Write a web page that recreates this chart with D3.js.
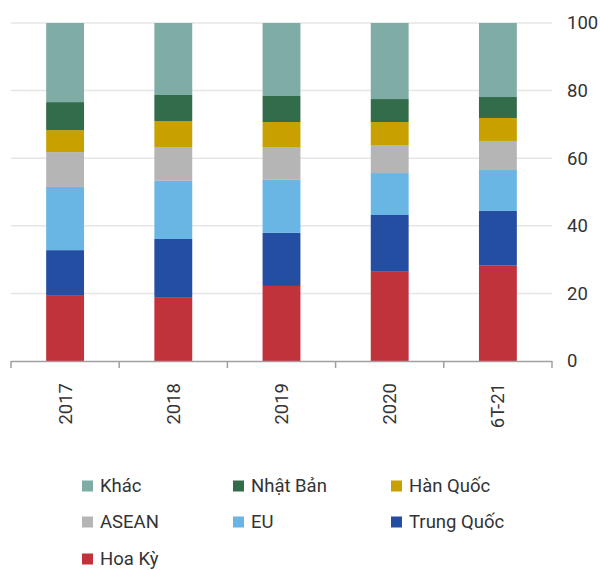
<!DOCTYPE html>
<html>
<head>
<meta charset="utf-8">
<script src="https://cdn.jsdelivr.net/npm/d3@7"></script>
<style>
  body { margin: 0; background: #fff; }
  svg text { font-family: Roboto, "Noto Sans", sans-serif; fill: #333; }
</style>
</head>
<body>
<svg id="chart" width="600" height="570"></svg>
<script>
const categories = ["2017", "2018", "2019", "2020", "6T-21"];
const seriesNames = ["Hoa Kỳ", "Trung Quốc", "EU", "ASEAN", "Hàn Quốc", "Nhật Bản", "Khác"];
const hoaKy     = [19.5, 18.9, 22.2, 26.4, 28.2];
const trungQuoc = [13.3, 17.2, 15.7, 16.8, 16.2];
const eu        = [18.7, 17.2, 15.7, 12.4, 12.1];
const asean     = [10.3, 10.0,  9.7,  8.3,  8.6];
const hanQuoc   = [ 6.5,  7.7,  7.4,  6.8,  6.8];
const nhatBan   = [ 8.3,  7.7,  7.7,  6.8,  6.2];
const khac      = [23.4, 21.3, 21.6, 22.5, 21.9];
const yTicks = [0, 20, 40, 60, 80, 100];

const colors = {
  "Hoa Kỳ": "#c0333a",
  "Trung Quốc": "#234ea1",
  "EU": "#69b5e3",
  "ASEAN": "#b5b5b5",
  "Hàn Quốc": "#c8a000",
  "Nhật Bản": "#336c4a",
  "Khác": "#7fada6"
};

const seriesValues = [hoaKy, trungQuoc, eu, asean, hanQuoc, nhatBan, khac];
const table = categories.map((c, i) => {
  const row = { cat: c };
  seriesNames.forEach((s, j) => (row[s] = seriesValues[j][i]));
  return row;
});

const svg = d3.select("#chart");
const margin = { top: 23, right: 48, bottom: 209, left: 11 };
const width = 600, height = 570;
const fontSize = "18.5px";

const x = d3
  .scaleBand()
  .domain(categories)
  .range([margin.left, width - margin.right])
  .paddingInner(0.65)
  .paddingOuter(0.325);

const y = d3
  .scaleLinear()
  .domain([0, 100])
  .range([height - margin.bottom, margin.top]);

// gridlines
svg
  .append("g")
  .selectAll("line")
  .data(yTicks.filter((d) => d > 0))
  .enter()
  .append("line")
  .attr("x1", margin.left)
  .attr("x2", width - margin.right)
  .attr("y1", (d) => y(d))
  .attr("y2", (d) => y(d))
  .attr("stroke", "#e6e6e6")
  .attr("stroke-width", 1.5);

// stacked bars
const stack = d3.stack().keys(seriesNames)(table);
svg
  .append("g")
  .selectAll("g")
  .data(stack)
  .enter()
  .append("g")
  .attr("fill", (d) => colors[d.key])
  .selectAll("rect")
  .data((d) => d)
  .enter()
  .append("rect")
  .attr("x", (d) => x(d.data.cat))
  .attr("y", (d) => y(d[1]))
  .attr("width", x.bandwidth())
  .attr("height", (d) => y(d[0]) - y(d[1]));

// x axis: line + ticks at band edges
const xAxis = svg.append("g");
const x0 = height - margin.bottom;
xAxis
  .append("line")
  .attr("x1", margin.left)
  .attr("x2", width - margin.right)
  .attr("y1", x0 + 0.5)
  .attr("y2", x0 + 0.5)
  .attr("stroke", "#a0a0a0")
  .attr("stroke-width", 1.5);
const step = x.step();
const edges = d3.range(categories.length + 1).map((i) => margin.left + i * step);
xAxis
  .selectAll(".tk")
  .data(edges)
  .enter()
  .append("line")
  .attr("class", "tk")
  .attr("x1", (d) => d)
  .attr("x2", (d) => d)
  .attr("y1", x0)
  .attr("y2", x0 + 7)
  .attr("stroke", "#a0a0a0")
  .attr("stroke-width", 1.5);
xAxis
  .selectAll("text")
  .data(categories)
  .enter()
  .append("text")
  .attr("text-anchor", "end")
  .attr("dy", "0.35em")
  .attr("transform", (d) => `translate(${x(d) + x.bandwidth() / 2},${x0 + 22}) rotate(-90)`)
  .style("font-size", fontSize)
  .text((d) => d);

// y axis labels on the right
svg
  .append("g")
  .selectAll("text")
  .data(yTicks)
  .enter()
  .append("text")
  .attr("x", 567)
  .attr("y", (d) => y(d))
  .attr("dy", "0.35em")
  .style("font-size", fontSize)
  .text((d) => d);

// legend
const legendOrder = ["Khác", "Nhật Bản", "Hàn Quốc", "ASEAN", "EU", "Trung Quốc", "Hoa Kỳ"];
const colX = [82, 233, 391];
const rowY = [486, 522, 559];
const legend = svg
  .append("g")
  .selectAll("g")
  .data(legendOrder)
  .enter()
  .append("g")
  .attr("transform", (d, i) => `translate(${colX[i % 3]},${rowY[Math.floor(i / 3)]})`);
legend
  .append("rect")
  .attr("x", 0)
  .attr("y", -5.5)
  .attr("width", 11)
  .attr("height", 11)
  .attr("fill", (d) => colors[d]);
legend
  .append("text")
  .attr("x", 18)
  .attr("dy", "0.35em")
  .style("font-size", fontSize)
  .text((d) => d);
</script>
</body>
</html>
